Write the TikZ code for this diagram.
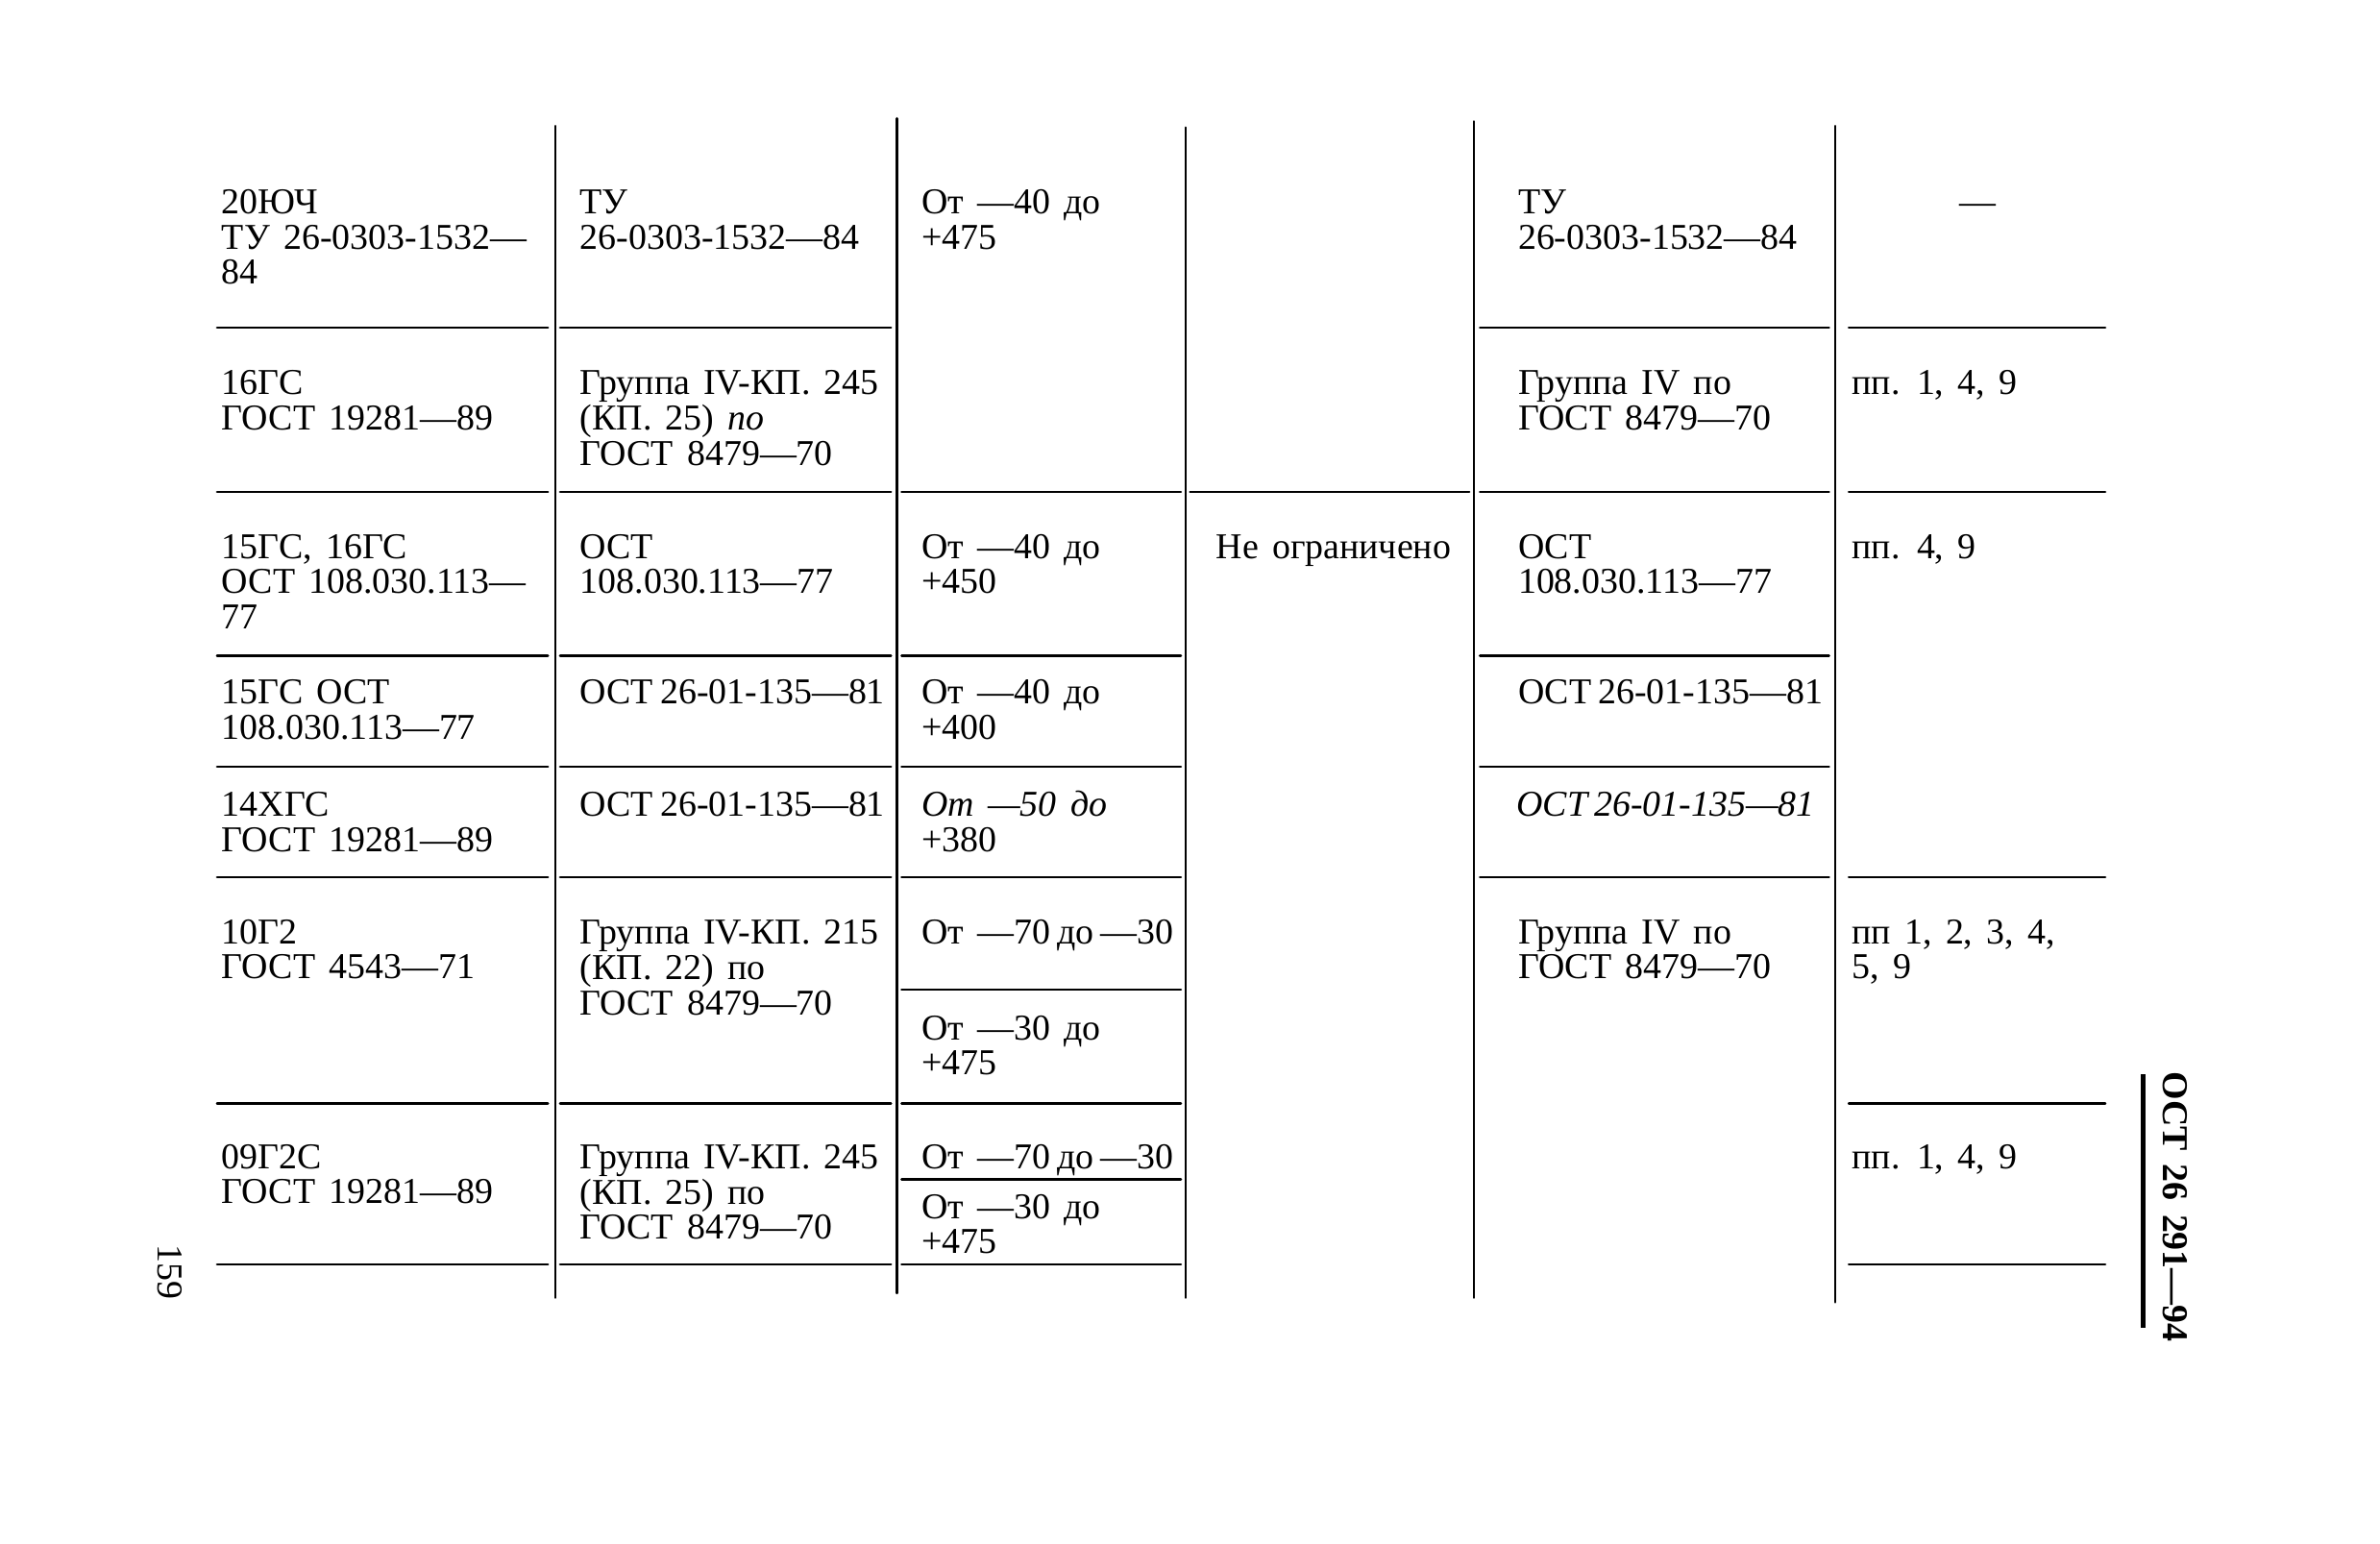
\documentclass[tikz,border=0pt]{standalone}
\usepackage{fontspec}
\setmainfont{Liberation Serif}[WordSpace=1.5]
\newcommand\tabfont{\fontsize{24}{23}\selectfont}
\newcommand\cellt[1]{\begin{tabular}[t]{@{}l@{}}#1\end{tabular}}
\newcommand\nsp{\hspace{4.5pt}}
\tikzset{
  rule/.style={line width=1.6pt, line cap=round},
  hdrrule/.style={line width=3.5pt},
  cell/.style={anchor=base west, inner sep=0pt, font=\tabfont},
  rot/.style={rotate=-90, inner sep=0pt, font=\tabfont}
}
\begin{document}
\begin{tikzpicture}[x=1pt,y=-1pt]
\useasboundingbox (0,0) rectangle (1568,1017);
% vertical rules
\draw[rule] (366,83) -- (366,855);
\draw[rule] (591,78) -- (591,852);
\draw[rule] (781,84) -- (781,855);
\draw[rule] (971,80) -- (971,855);
\draw[rule] (1209,83) -- (1209,858);
% horizontal rules
\foreach \y in {216,324,432,505,578,727,833} {
  \draw[rule] (143,\y) -- (361,\y);
  \draw[rule] (369,\y) -- (587,\y);
}
\foreach \y in {324,432,505,578,652,727,777,833}
  \draw[rule] (594,\y) -- (778,\y);
\draw[rule] (784,324) -- (968,324);
\foreach \y in {216,324,432,505,578}
  \draw[rule] (975,\y) -- (1205,\y);
\foreach \y in {216,324,578,727,833}
  \draw[rule] (1218,\y) -- (1387,\y);
% column 1
\node[cell] (a1) at (146,141) {\cellt{20ЮЧ\\ТУ 26-0303-1532—\\84}};
\node[cell] (a2) at (146,260) {\cellt{16ГС\\ГОСТ 19281—89}};
\node[cell] (a3) at (146,368) {\cellt{15ГС, 16ГС\\ОСТ 108.030.113—\\77}};
\node[cell] (a4) at (146,464) {\cellt{15ГС ОСТ\\108.030.113—77}};
\node[cell] (a5) at (146,538) {\cellt{14ХГС\\ГОСТ 19281—89}};
\node[cell] (a6) at (146,622) {\cellt{10Г2\\ГОСТ 4543—71}};
\node[cell] (a7) at (146,770) {\cellt{09Г2С\\ГОСТ 19281—89}};
% column 2
\node[cell] (b1) at (382,141) {\cellt{ТУ\\26-0303-1532—84}};
\node[cell] (b2) at (382,260) {\cellt{Группа IV-КП. 245\\(КП. 25) \textit{по}\\ГОСТ 8479—70}};
\node[cell] (b3) at (382,368) {\cellt{ОСТ\\108.030.113—77}};
\node[cell] (b4) at (382,464) {ОСТ\nsp 26-01-135—81};
\node[cell] (b5) at (382,538) {ОСТ\nsp 26-01-135—81};
\node[cell] (b6) at (382,622) {\cellt{Группа IV-КП. 215\\(КП. 22) по\\ГОСТ 8479—70}};
\node[cell] (b7) at (382,770) {\cellt{Группа IV-КП. 245\\(КП. 25) по\\ГОСТ 8479—70}};
% column 3
\node[cell] (c1) at (607,141) {\cellt{От —40 до\\+475}};
\node[cell] (c3) at (607,368) {\cellt{От —40 до\\+450}};
\node[cell] (c4) at (607,464) {\cellt{От —40 до\\+400}};
\node[cell] (c5) at (607,538) {\cellt{\textit{От —50 до}\\+380}};
\node[cell] (c6) at (607,622) {От —70\nsp до\nsp —30};
\node[cell] (c6b) at (607,685) {\cellt{От —30 до\\+475}};
\node[cell] (c7) at (607,770) {От —70\nsp до\nsp —30};
\node[cell] (c7b) at (607,803) {\cellt{От —30 до\\+475}};
% column 4
\node[cell] (d3) at (801,368) {Не ограничено};
% column 5
\node[cell] (e1) at (1000,141) {\cellt{ТУ\\26-0303-1532—84}};
\node[cell] (e2) at (1000,260) {\cellt{Группа IV по\\ГОСТ 8479—70}};
\node[cell] (e3) at (1000,368) {\cellt{ОСТ\\108.030.113—77}};
\node[cell] (e4) at (1000,464) {ОСТ\nsp 26-01-135—81};
\node[cell] (e5) at (999,538) {\textit{ОСТ\nsp 26-01-135—81}};
\node[cell] (e6) at (1000,622) {\cellt{Группа IV по\\ГОСТ 8479—70}};
% column 6
\node[cell, anchor=base] (f1) at (1303,141) {—};
\node[cell] (f2) at (1220,260) {пп. 1, 4, 9};
\node[cell] (f3) at (1220,368) {пп. 4, 9};
\node[cell] (f6) at (1220,622) {\cellt{пп 1, 2, 3, 4,\\5, 9}};
\node[cell] (f7) at (1220,770) {пп. 1, 4, 9};
% page number and header
\node[rot] (pnum) at (112,838) {159};
\draw[hdrrule] (1412,708) -- (1412,875);
\node[rot, font=\tabfont\bfseries] (hdr) at (1433,795) {ОСТ 26 291—94};
\end{tikzpicture}
\end{document}
